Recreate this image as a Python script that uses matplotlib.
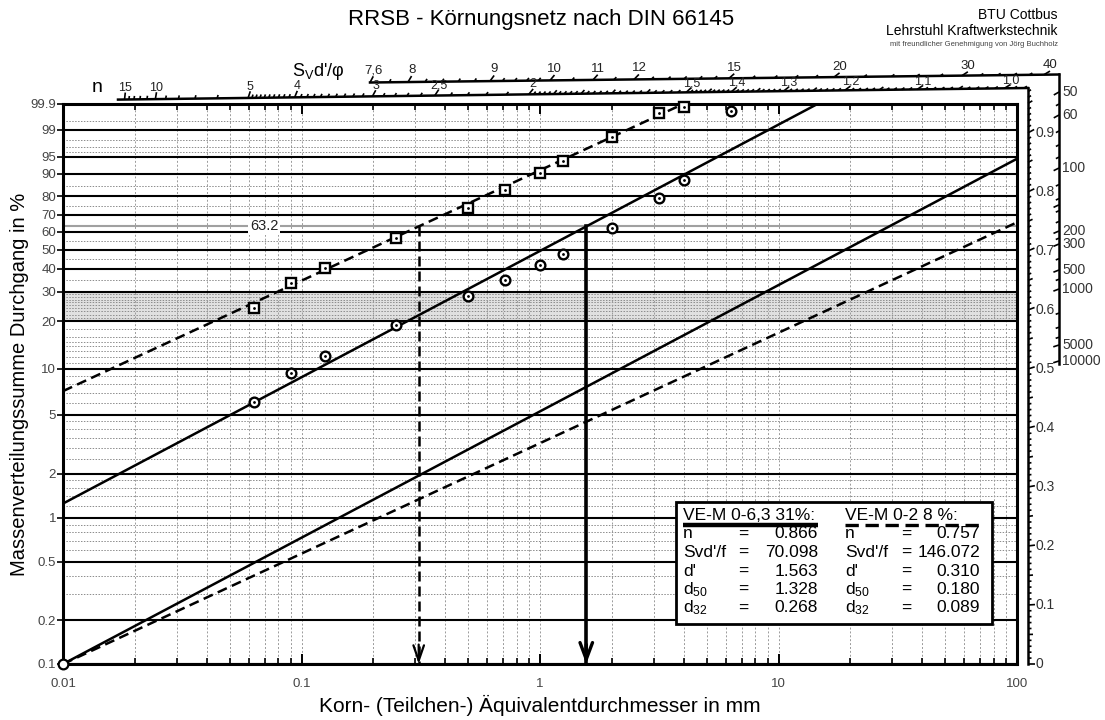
"""
RRSB grain size net (DIN 66145) with two sieve analyses,
their RRSB fit lines and the n / Sv d'/phi nomogram scales.
"""

import numpy as np
import matplotlib
matplotlib.use("Agg")
import matplotlib.pyplot as plt
from matplotlib.patches import Rectangle
from matplotlib.ticker import FixedLocator, NullLocator, NullFormatter, LogLocator

plt.rcParams["font.family"] = ["Liberation Sans", "DejaVu Sans"]
plt.rcParams["mathtext.fontset"] = "custom"
plt.rcParams["mathtext.rm"] = "Liberation Sans"
plt.rcParams["mathtext.it"] = "Liberation Sans"

# ---------------------------------------------------------------------------
# Data
# ---------------------------------------------------------------------------

# VE-M 0-6,3 (31 %)  -> circles, solid line
sieve_a = [0.063, 0.09, 0.125, 0.25, 0.5, 0.71, 1.0, 1.25, 2.0, 3.15, 4.0, 6.3]
pass_a  = [6.1, 9.4, 12.1, 19.0, 28.5, 35.0, 42.0, 47.6, 62.2, 79.0, 87.5, 99.8]

# VE-M 0-2 (8 %)  -> squares, dashed line
sieve_b = [0.063, 0.09, 0.125, 0.25, 0.5, 0.71, 1.0, 1.25, 2.0, 3.15, 4.0]
pass_b  = [24.1, 33.5, 40.6, 56.6, 73.7, 83.0, 90.2, 93.9, 98.3, 99.75, 99.86]

# RRSB parameters (legend box)
n_a, sv_a, dp_a, d50_a, d32_a = 0.866, 70.098, 1.563, 1.328, 0.268
n_b, sv_b, dp_b, d50_b, d32_b = 0.757, 146.072, 0.310, 0.180, 0.089

# axis ticks
y_major = [0.1, 0.2, 0.5, 1, 2, 5, 10, 20, 30, 40, 50, 60, 70, 80, 90, 95, 99, 99.9]
y_major_lab = ["0.1", "0.2", "0.5", "1", "2", "5", "10", "20", "30", "40", "50",
               "60", "70", "80", "90", "95", "99", "99.9"]
y_minor = [0.3, 0.4, 0.6, 0.7, 0.8, 0.9, 1.2, 1.4, 1.6, 1.8, 2.5, 3, 3.5, 4, 4.5,
           6, 7, 8, 9, 11, 12, 13, 14, 15, 16, 18, 21, 22, 23, 24, 25, 26, 27, 28, 29,
           35, 45, 55, 75, 85, 96, 97, 98, 99.5]
x_major = [0.01, 0.1, 1, 10, 100]
x_major_lab = ["0.01", "0.1", "1", "10", "100"]

# nomogram scales
n_top_lab = [15, 10, 5, 4, 3, 2.5, 2, 1.5, 1.4, 1.3, 1.2, 1.1, 1.0]
n_top_txt = ["15", "10", "5", "4", "3", "2,5", "2", "1,5", "1,4", "1,3", "1,2", "1,1", "1,0"]
n_right_lab = [0, 0.1, 0.2, 0.3, 0.4, 0.5, 0.6, 0.7, 0.8, 0.9]
n_right_txt = ["0", "0.1", "0.2", "0.3", "0.4", "0.5", "0.6", "0.7", "0.8", "0.9"]

sv_top_lab = [7.6, 8, 9, 10, 11, 12, 15, 20, 30, 40]
sv_top_txt = ["7,6", "8", "9", "10", "11", "12", "15", "20", "30", "40"]
sv_top_minor = [7.8, 8.2, 8.4, 8.6, 8.8, 9.2, 9.4, 9.6, 9.8, 10.5, 11.5, 12.5, 13, 13.5,
                14, 14.5, 16, 17, 18, 19, 22, 24, 26, 28, 32, 34, 36, 38]
sv_right_lab = [50, 60, 100, 200, 300, 500, 1000, 5000, 10000]
sv_right_minor = [55, 70, 80, 90, 120, 140, 150, 160, 180, 250, 400, 700, 2000, 3000, 4000]

# ---------------------------------------------------------------------------
# RRSB ordinate: log10(-ln(1 - D))
# ---------------------------------------------------------------------------

def pct_to_y(D):
    D = np.asarray(D, dtype=float)
    with np.errstate(all="ignore"):
        return np.log10(-np.log1p(-D / 100.0))


def y_to_pct(v):
    v = np.asarray(v, dtype=float)
    with np.errstate(all="ignore"):
        return -100.0 * np.expm1(-10.0 ** v)


W, H = 1105, 720
X0, X1, Y0, Y1 = 63, 1017, 104, 664       # plot box in pixels
V_TOP = float(pct_to_y(99.9))
PX_U = (X1 - X0) / 4.0
PX_V = (Y1 - Y0) / (V_TOP + 3.0)


def uv(px, py):
    """pixel position -> nomogram coords (log10 d, log10 -ln R)"""
    return -2 + (px - X0) / PX_U, -3 + (Y1 - py) / PX_V


fig = plt.figure(figsize=(W / 100, H / 100), dpi=100)
ax = fig.add_axes([X0 / W, 1 - Y1 / H, (X1 - X0) / W, (Y1 - Y0) / H])
ax.set_xscale("log")
ax.set_yscale("function", functions=(pct_to_y, y_to_pct))
ax.set_xlim(0.01, 100)
ax.set_ylim(0.1, 99.9)

# ---------------------------------------------------------------------------
# Grid
# ---------------------------------------------------------------------------

ax.axhspan(20, 30, color="#e0e0e0", lw=0, zorder=0.2)
for D in y_minor:
    ax.axhline(D, color="#8c8c8c", lw=0.7, ls=(0, (1.5, 1.5)), zorder=0.5)
for k in range(-2, 2):
    for m in range(1, 10):
        d = m * 10.0 ** k
        if d <= 0.01:
            continue
        ax.axvline(d, color="#9a9a9a", lw=0.7, ls=(0, (2, 2)), zorder=0.5)
for D in y_major:
    ax.axhline(D, color="black", lw=1.5, zorder=1)
ax.axhline(63.21, color="#a0a0a0", lw=1.5, zorder=0.9)
ax.text((250 - X0) / (X1 - X0), 63.21, "63.2", transform=ax.get_yaxis_transform(),
        ha="left", va="center", fontsize=10.5, color="#222",
        bbox=dict(facecolor="white", edgecolor="none", pad=1.5), zorder=1.1)

# ---------------------------------------------------------------------------
# Axes styling
# ---------------------------------------------------------------------------

for sp in ax.spines.values():
    sp.set_linewidth(2.2)
ax.xaxis.set_major_locator(FixedLocator(x_major))
ax.set_xticklabels(x_major_lab)
ax.xaxis.set_minor_locator(LogLocator(base=10, subs=range(2, 10)))
ax.xaxis.set_minor_formatter(NullFormatter())
ax.tick_params(axis="x", which="both", direction="in", top=True, bottom=True,
               labelsize=9.5, labelcolor="#444", pad=10)
ax.tick_params(axis="x", which="major", length=7, width=1.4)
ax.tick_params(axis="x", which="minor", length=4, width=1.2)
ax.set_yticks(y_major)
ax.set_yticklabels(y_major_lab)
ax.yaxis.set_minor_locator(NullLocator())
ax.tick_params(axis="y", direction="out", length=4, width=1.2, left=True, right=False,
               labelsize=9.5, labelcolor="#444", pad=1)

# ---------------------------------------------------------------------------
# RRSB lines, pole lines, measured points
# ---------------------------------------------------------------------------

def rrsb_line(n, dp):
    d_top = dp * (-np.log(0.001)) ** (1.0 / n)
    d = np.geomspace(0.01, min(100.0, d_top), 80)
    return d, 100.0 * (1 - np.exp(-(d / dp) ** n))


def pole_line(n):
    d = np.geomspace(0.01, 100.0, 80)
    return d, y_to_pct(-3 + n * (np.log10(d) + 2))


da, Da = rrsb_line(n_a, dp_a)
db, Db = rrsb_line(n_b, dp_b)
ax.plot(da, Da, color="black", lw=1.8, zorder=3)
ax.plot(db, Db, color="black", lw=1.8, dashes=(4, 2.2), zorder=3)
pa, Pa = pole_line(n_a)
pb, Pb = pole_line(n_b)
ax.plot(pa, Pa, color="black", lw=1.8, zorder=3)
ax.plot(pb, Pb, color="black", lw=1.8, dashes=(4, 2.2), zorder=3)

ax.plot(sieve_a, pass_a, ls="none", marker="o", ms=7, mfc="white", mec="black",
        mew=1.7, zorder=5, clip_on=False)
ax.plot(sieve_a, pass_a, ls="none", marker=".", ms=2, color="black", zorder=6, clip_on=False)
ax.plot(sieve_b, pass_b, ls="none", marker="s", ms=7, mfc="white", mec="black",
        mew=1.7, zorder=5, clip_on=False)
ax.plot(sieve_b, pass_b, ls="none", marker=".", ms=2, color="black", zorder=6, clip_on=False)
ax.plot([0.01], [0.1], ls="none", marker="o", ms=7, mfc="white", mec="black",
        mew=1.6, zorder=7, clip_on=False)

# d' arrows from the 63.2 % line down to the axis
ax.plot([dp_b, dp_b], [63.21, 0.1], color="black", lw=1.8, dashes=(4, 2), zorder=4)
ax.annotate("", xy=(dp_b, 0.1), xytext=(0, 14), textcoords="offset points",
            arrowprops=dict(arrowstyle="->,head_length=1.1,head_width=0.38",
                            lw=1.6, color="black", shrinkA=0, shrinkB=0), zorder=4)
ax.plot([dp_a, dp_a], [63.21, 0.1], color="black", lw=2.6, zorder=4)
ax.annotate("", xy=(dp_a, 0.1), xytext=(0, 14), textcoords="offset points",
            arrowprops=dict(arrowstyle="->,head_length=1.2,head_width=0.45",
                            lw=2.4, color="black", shrinkA=0, shrinkB=0), zorder=4)

# ---------------------------------------------------------------------------
# Legend box
# ---------------------------------------------------------------------------

def fx(px):
    return (px - X0) / (X1 - X0)


def fy(py):
    return (Y1 - py) / (Y1 - Y0)


ax.add_patch(Rectangle((fx(676), fy(624)), fx(992) - fx(676), fy(502) - fy(624),
                       transform=ax.transAxes, facecolor="white", edgecolor="black",
                       lw=2, zorder=10))

lfs = 12.5
ax.text(fx(683), fy(515), "VE-M 0-6,3 31%:", transform=ax.transAxes, fontsize=lfs,
        ha="left", va="center", zorder=11)
ax.text(fx(845), fy(515), "VE-M 0-2 8 %:", transform=ax.transAxes, fontsize=lfs,
        ha="left", va="center", zorder=11)
ax.plot([fx(683), fx(818)], [fy(525)] * 2, transform=ax.transAxes, color="black",
        lw=3.2, zorder=11, clip_on=False, solid_capstyle="butt")
ax.plot([fx(845), fx(980)], [fy(525)] * 2, transform=ax.transAxes, color="black",
        lw=2.4, dashes=(4, 2), zorder=11, clip_on=False)

rows_lab = ["n", "Svd'/f", "d'", "d$_{50}$", "d$_{32}$"]
vals_a = [n_a, sv_a, dp_a, d50_a, d32_a]
vals_b = [n_b, sv_b, dp_b, d50_b, d32_b]
for i, lab in enumerate(rows_lab):
    yy = fy(534 + 18.5 * i)
    ax.text(fx(683), yy, lab, transform=ax.transAxes, fontsize=lfs, ha="left", va="center", zorder=11)
    ax.text(fx(743), yy, "=", transform=ax.transAxes, fontsize=lfs, ha="center", va="center", zorder=11)
    ax.text(fx(818), yy, f"{vals_a[i]:.3f}", transform=ax.transAxes, fontsize=lfs,
            ha="right", va="center", zorder=11)
    ax.text(fx(845), yy, lab, transform=ax.transAxes, fontsize=lfs, ha="left", va="center", zorder=11)
    ax.text(fx(906), yy, "=", transform=ax.transAxes, fontsize=lfs, ha="center", va="center", zorder=11)
    ax.text(fx(980), yy, f"{vals_b[i]:.3f}", transform=ax.transAxes, fontsize=lfs,
            ha="right", va="center", zorder=11)

# ---------------------------------------------------------------------------
# Nomogram scales (n and Sv d'/phi), drawn around the net
# ---------------------------------------------------------------------------

nomo = fig.add_axes(ax.get_position().bounds, frameon=False, zorder=5)
nomo.set_xlim(-2, 2)
nomo.set_ylim(-3, V_TOP)
nomo.axis("off")


def ray_tick(u, v, L, sign=1, lw=1.2):
    dx, dy = (u + 2) * PX_U, (v + 3) * PX_V
    r = np.hypot(dx, dy)
    eu = u + sign * L * dx / r / PX_U
    ev = v + sign * L * dy / r / PX_V
    nomo.plot([u, eu], [v, ev], color="black", lw=lw, clip_on=False, solid_capstyle="butt")
    return eu, ev


def up_px(v, px):
    return v + px / PX_V


def right_px(u, px):
    return u + px / PX_U


# top n scale: straight, slightly rising line; rays from the pole (0.01 / 0.1 %)
uL, vL = uv(118, 99.6)
uR, vR = uv(1028, 88)
b_n = (vR - vL) / (uR - uL)
a_n = vL - b_n * uL


def n_top(n):
    u = (a_n + 3 - 2 * n) / (n - b_n)
    return u, a_n + b_n * u


nomo.plot([uL, uR], [vL, vR], color="black", lw=1.8, clip_on=False)
n_top_minor = (list(range(11, 15)) + list(range(6, 10))
               + list(np.round(np.arange(4.1, 5.0, 0.1), 2))
               + list(np.round(np.arange(3.1, 4.0, 0.1), 2))
               + list(np.round(np.arange(2.1, 2.5, 0.1), 2))
               + list(np.round(np.arange(2.6, 3.0, 0.1), 2))
               + list(np.round(np.arange(1.52, 2.0, 0.02), 2))
               + list(np.round(np.arange(1.01, 1.5, 0.01), 2)) + [0.99, 0.98])
for n in n_top_minor:
    if n in n_top_lab:
        continue
    med = abs(n * 20 - round(n * 20)) < 1e-6 and n < 2
    ray_tick(*n_top(n), 5 if med else 3.5)
for n, t in zip(n_top_lab, n_top_txt):
    eu, ev = ray_tick(*n_top(n), 7)
    nomo.text(eu, up_px(ev, -1.5), t, ha="center", va="bottom", fontsize=9, color="#222")

# right n scale
uRn = uR
nomo.plot([uRn, uRn], [-3, vR], color="black", lw=1.8, clip_on=False)
for n in np.round(np.arange(0, 0.975, 0.01), 2):
    major = abs(n * 10 - round(n * 10)) < 1e-6
    med = abs(n * 20 - round(n * 20)) < 1e-6
    ray_tick(uRn, -3 + n * (uRn + 2), 7 if major else (5 if med else 3.5))
for n, t in zip(n_right_lab, n_right_txt):
    nomo.text(right_px(uRn, 7), -3 + n * (uRn + 2), t, ha="left", va="center",
              fontsize=10, color="#333")

# top Sv d'/phi scale
sv_top_px = [370, 408, 490, 550, 593, 634, 729, 834, 962, 1044]
uS0, vS0 = uv(370, 82.5)
uS1, vS1 = uv(1059, 74.5)
b_s = (vS1 - vS0) / (uS1 - uS0)
a_s = vS0 - b_s * uS0
sv_top_u = [uv(p, 0)[0] for p in sv_top_px]


def sv_top(S):
    u = np.interp(np.log10(S), np.log10(sv_top_lab), sv_top_u)
    return u, a_s + b_s * u


nomo.plot([uS0, uS1], [vS0, vS1], color="black", lw=1.8, clip_on=False)
for S in sv_top_minor:
    ray_tick(*sv_top(S), 3.5)
for S, t in zip(sv_top_lab, sv_top_txt):
    eu, ev = ray_tick(*sv_top(S), 7)
    nomo.text(eu, up_px(ev, 0), t, ha="center", va="bottom", fontsize=9.5, color="#222")

# right Sv d'/phi scale
sv_right_py = [92, 115, 168, 231, 244, 270, 289, 345, 361]
sv_right_v = [uv(0, p)[1] for p in sv_right_py]


def sv_right(S):
    return np.interp(np.log10(S), np.log10(sv_right_lab), sv_right_v)


vS_bot = uv(0, 364)[1]
nomo.plot([uS1, uS1], [vS_bot, vS1], color="black", lw=1.8, clip_on=False)
for S in sv_right_minor:
    ray_tick(uS1, sv_right(S), 6 if S == 150 else 3.5, sign=-1)
for S in sv_right_lab:
    ray_tick(uS1, sv_right(S), 6, sign=-1)
    nomo.text(right_px(uS1, 3), sv_right(S), str(S), ha="left", va="center",
              fontsize=10, color="#333")

# ---------------------------------------------------------------------------
# Titles and labels
# ---------------------------------------------------------------------------

fig.text(97 / W, 1 - 88 / H, "n", fontsize=14, ha="center", va="center")
fig.text(318 / W, 1 - 71 / H, r"S$_\mathrm{V}$d'/φ", fontsize=13, ha="center", va="center")
fig.text(541 / W, 1 - 20 / H, "RRSB - Körnungsnetz nach DIN 66145", fontsize=16,
         ha="center", va="center")
fig.text(1058 / W, 1 - 15 / H, "BTU Cottbus", fontsize=10, ha="right", va="center")
fig.text(1058 / W, 1 - 31 / H, "Lehrstuhl Kraftwerkstechnik", fontsize=10, ha="right", va="center")
fig.text(1058 / W, 1 - 44 / H, "mit freundlicher Genehmigung von Jörg Buchholz", fontsize=5.5,
         ha="right", va="center", color="#444")
fig.text(540 / W, 1 - 705 / H, "Korn- (Teilchen-) Äquivalentdurchmesser in mm",
         fontsize=15, ha="center", va="center")
fig.text(20 / W, 1 - 384 / H, "Massenverteilungssumme Durchgang in %", fontsize=14.5,
         ha="center", va="center", rotation=90)

fig.savefig("out.png", dpi=100)
